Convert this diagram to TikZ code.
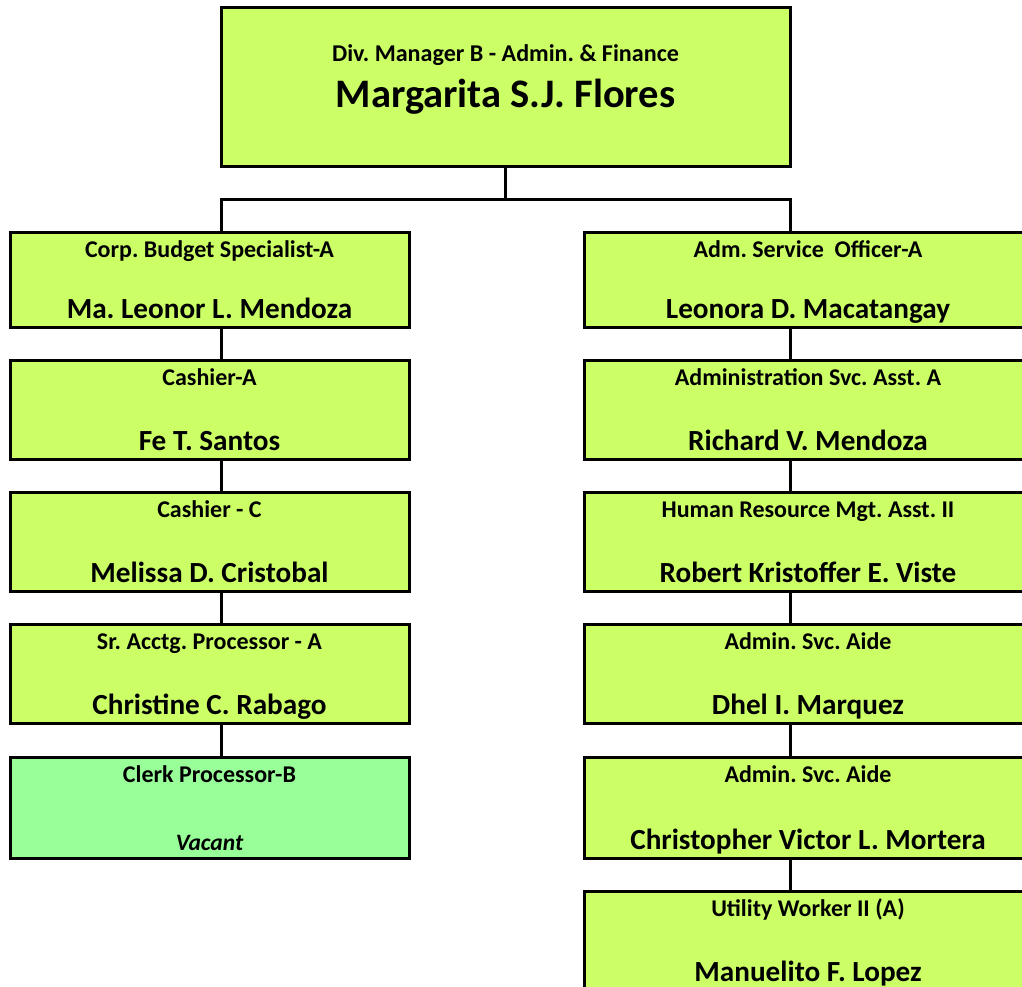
\documentclass[tikz,border=0pt]{standalone}
\usepackage{fontspec}
\setmainfont{Carlito}
\frenchspacing
\usetikzlibrary{calc}
\definecolor{postfill}{HTML}{CCFF66}
\definecolor{vacantfill}{HTML}{99FF99}
\tikzset{
  post/.style={draw, line width=3pt, fill=postfill, outer sep=0pt, inner sep=0pt},
  vacantpost/.style={post, fill=vacantfill},
  leftpost/.style={minimum width=399pt, minimum height=#1},
  rightpost/.style={minimum width=448pt, minimum height=#1},
  postname/.style={anchor=base, inner sep=0pt, font=\bfseries\fontsize{29.2}{33}\selectfont},
  posttitle/.style={anchor=base, inner sep=0pt, font=\bfseries\fontsize{24}{28}\selectfont},
  link/.style={line width=3pt}
}

\begin{document}
\begin{tikzpicture}[x=1pt,y=1pt,yscale=-1,xscale=1]
\useasboundingbox (0,0) rectangle (1022,987);
% Division head
\node [post, minimum width=569pt, minimum height=159pt] (div) at (505.5,87.5) {};
\node [posttitle, font=\bfseries\fontsize{24.1}{28}\selectfont] (divt) at ($(div.north)+(0,54)$) {Div. Manager B - Admin. \& Finance};
\node [postname, font=\bfseries\fontsize{40.5}{46}\selectfont] (divn) at ($(div.north)+(0,100)$) {Margarita S.J. Flores};
% Left column
\node [post, leftpost=95pt] (budget) at (209.5,279.5) {};
\node [post, leftpost=99pt] (cashiera) at (209.5,409.5) {};
\node [post, leftpost=99pt] (cashierc) at (209.5,541.5) {};
\node [post, leftpost=99pt] (acctg) at (209.5,673.5) {};
\node [vacantpost, leftpost=101pt] (clerk) at (209.5,807.5) {};
% Right column
\node [post, rightpost=95pt] (officer) at (808,279.5) {};
\node [post, rightpost=99pt] (svcasst) at (808,409.5) {};
\node [post, rightpost=99pt] (hrasst) at (808,541.5) {};
\node [post, rightpost=99pt] (aideone) at (808,673.5) {};
\node [post, rightpost=101pt] (aidetwo) at (808,807.5) {};
\node [post, rightpost=99pt] (utility) at (808,940.5) {};
% Text nodes
\foreach \p/\t/\n in {budget/Corp. Budget Specialist-A/Ma. Leonor L. Mendoza,
    cashiera/Cashier-A/Fe T. Santos,
    cashierc/Cashier - C/Melissa D. Cristobal,
    acctg/Sr. Acctg. Processor - A/Christine C. Rabago,
    officer/Adm. Service~~Officer-A/Leonora D. Macatangay,
    svcasst/Administration Svc. Asst. A/Richard V. Mendoza,
    hrasst/Human Resource Mgt. Asst. II/Robert Kristoffer E. Viste,
    aideone/Admin. Svc. Aide/Dhel I. Marquez,
    aidetwo/Admin. Svc. Aide/Christopher Victor L. Mortera,
    utility/Utility Worker II (A)/Manuelito F. Lopez}{
  \node [posttitle] (\p t) at ($(\p.north)+(0,25)$) {\t};
  \node [postname] (\p n) at ($(\p.south)+(0,-9)$) {\n};
}
\node [posttitle] (clerkt) at ($(clerk.north)+(0,25)$) {Clerk Processor-B};
\node [posttitle, font=\bfseries\itshape\fontsize{23.5}{27}\selectfont] (clerkn) at ($(clerk.south)+(0,-8)$) {Vacant};
% Connectors
\coordinate (bus) at ($(div.south)+(0,33)$);
\draw [link] (div.south) -- (bus);
\draw [link] (budget.north -| div.west) |- (bus) -| (officer.north -| div.east);
\foreach \a/\b in {budget/cashiera, cashiera/cashierc, cashierc/acctg, acctg/clerk}
  \draw [link] (\a.south -| div.west) -- (\b.north -| div.west);
\foreach \a/\b in {officer/svcasst, svcasst/hrasst, hrasst/aideone, aideone/aidetwo, aidetwo/utility}
  \draw [link] (\a.south -| div.east) -- (\b.north -| div.east);
\end{tikzpicture}
\end{document}
